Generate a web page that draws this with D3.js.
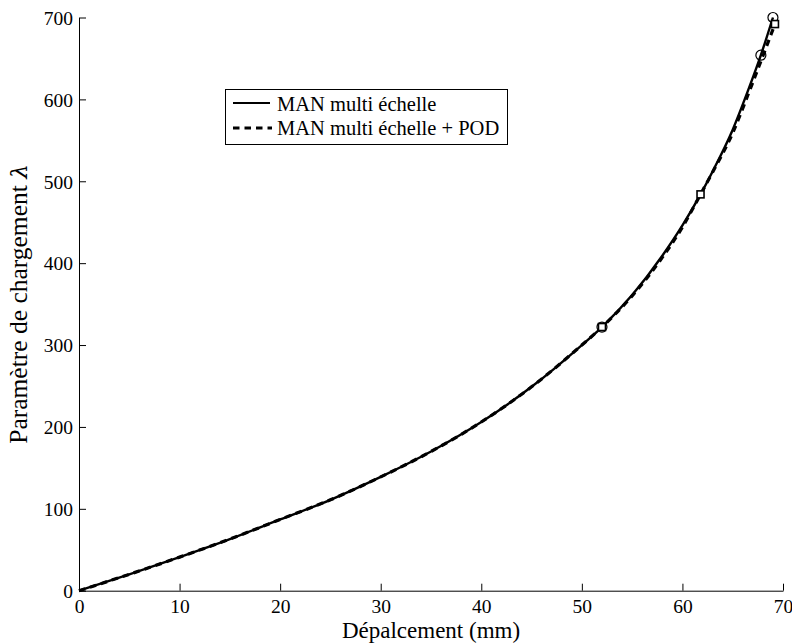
<!DOCTYPE html>
<html><head><meta charset="utf-8">
<script src="https://cdn.jsdelivr.net/npm/d3@7"></script>
<style>body{margin:0;background:#fff}svg{display:block}text{font-family:"Liberation Serif","Times New Roman",serif;fill:#000}</style>
</head><body><svg id="c" width="792" height="643"></svg>
<script>
const seriesNames = ["MAN multi échelle", "MAN multi échelle + POD"];
const xMan = [0,5,10,15,20,25,30,35,40,45,50,52,55,58,60,61.8,63,65,66.5,67.8,69];
const yMan = [0,20,41,63,87,111,139,170,206,249,300,322,361,409,446,484,512,563,610,654,700];
const xPod = [0,5,10,15,20,25,30,35,40,45,50,52,55,58,60,61.8,63,65,66.5,68,69.2];
const yPod = [0,20,41,63,87,111,139,170,206,249,300,322,360,407,444,484,511,559,605,653,692];
const manMarkX = [52,67.8,69], manMarkY = [322,654,700];
const podMarkX = [52,61.8,69.2], podMarkY = [322,484,692];
const xTicks = [0,10,20,30,40,50,60,70];
const yTicks = [0,100,200,300,400,500,600,700];

const svg = d3.select("#c");
const x = d3.scaleLinear().domain([0,70]).range([79,783]);
const y = d3.scaleLinear().domain([0,700]).range([590.7,17.5]);

const xa = svg.append("g").attr("transform","translate(0,590.7)")
  .call(d3.axisBottom(x).tickValues(xTicks).tickSizeInner(-7).tickSizeOuter(0).tickPadding(4));
const ya = svg.append("g").attr("transform","translate(79,0)")
  .call(d3.axisLeft(y).tickValues(yTicks).tickSizeInner(-7).tickSizeOuter(0).tickPadding(6));
[xa,ya].forEach(a=>{
  a.selectAll("path,line").attr("stroke","#000").attr("stroke-width",1);
  a.selectAll("text").style("font-family","'Liberation Serif',serif").style("font-size","19.5px").attr("fill","#000");
});
xa.selectAll("text").attr("dy","0.95em");
ya.selectAll("text").attr("dy","0.35em");

const line = d3.line().x(d=>x(d[0])).y(d=>y(d[1])).curve(d3.curveMonotoneX);
const man = xMan.map((v,i)=>[v,yMan[i]]);
const pod = xPod.map((v,i)=>[v,yPod[i]]);
svg.append("path").attr("d",line(pod)).attr("fill","none").attr("stroke","#000").attr("stroke-width",3.2).attr("stroke-dasharray","6.5,5");
svg.append("path").attr("d",line(man)).attr("fill","none").attr("stroke","#000").attr("stroke-width",2.4);

svg.selectAll(".cm").data(manMarkX.map((v,i)=>[v,manMarkY[i]])).enter().append("circle")
  .attr("cx",d=>x(d[0])).attr("cy",d=>y(d[1])).attr("r",5).attr("fill","none").attr("stroke","#000").attr("stroke-width",1.2);
svg.selectAll(".sm").data(podMarkX.map((v,i)=>[v,podMarkY[i]])).enter().append("rect")
  .attr("x",d=>x(d[0])-3.5).attr("y",d=>y(d[1])-3.5).attr("width",7).attr("height",7).attr("fill","#fff").attr("stroke","#000").attr("stroke-width",1.6);

const lg = svg.append("g");
lg.append("rect").attr("x",225.5).attr("y",89.5).attr("width",282).attr("height",55).attr("fill","#fff").attr("stroke","#000").attr("stroke-width",1);
lg.append("line").attr("x1",233).attr("x2",270).attr("y1",103).attr("y2",103).attr("stroke","#000").attr("stroke-width",2.2);
lg.append("line").attr("x1",233).attr("x2",272).attr("y1",128).attr("y2",128).attr("stroke","#000").attr("stroke-width",3.2).attr("stroke-dasharray","6.5,5");
lg.append("text").attr("x",277).attr("y",110.5).style("font-size","20.5px").text(seriesNames[0]);
lg.append("text").attr("x",277).attr("y",135).style("font-size","20.5px").text(seriesNames[1]);

svg.append("text").attr("x",431).attr("y",638).attr("text-anchor","middle").style("font-size","23px").text("Dépalcement (mm)");
const yt = svg.append("text").attr("transform","translate(27,304) rotate(-90)").attr("text-anchor","middle").style("font-size","25.5px");
yt.append("tspan").text("Paramètre de chargement ");
yt.append("tspan").style("font-style","italic").style("font-family","'DejaVu Serif',serif").style("font-size","23px").text("λ");
</script></body></html>
